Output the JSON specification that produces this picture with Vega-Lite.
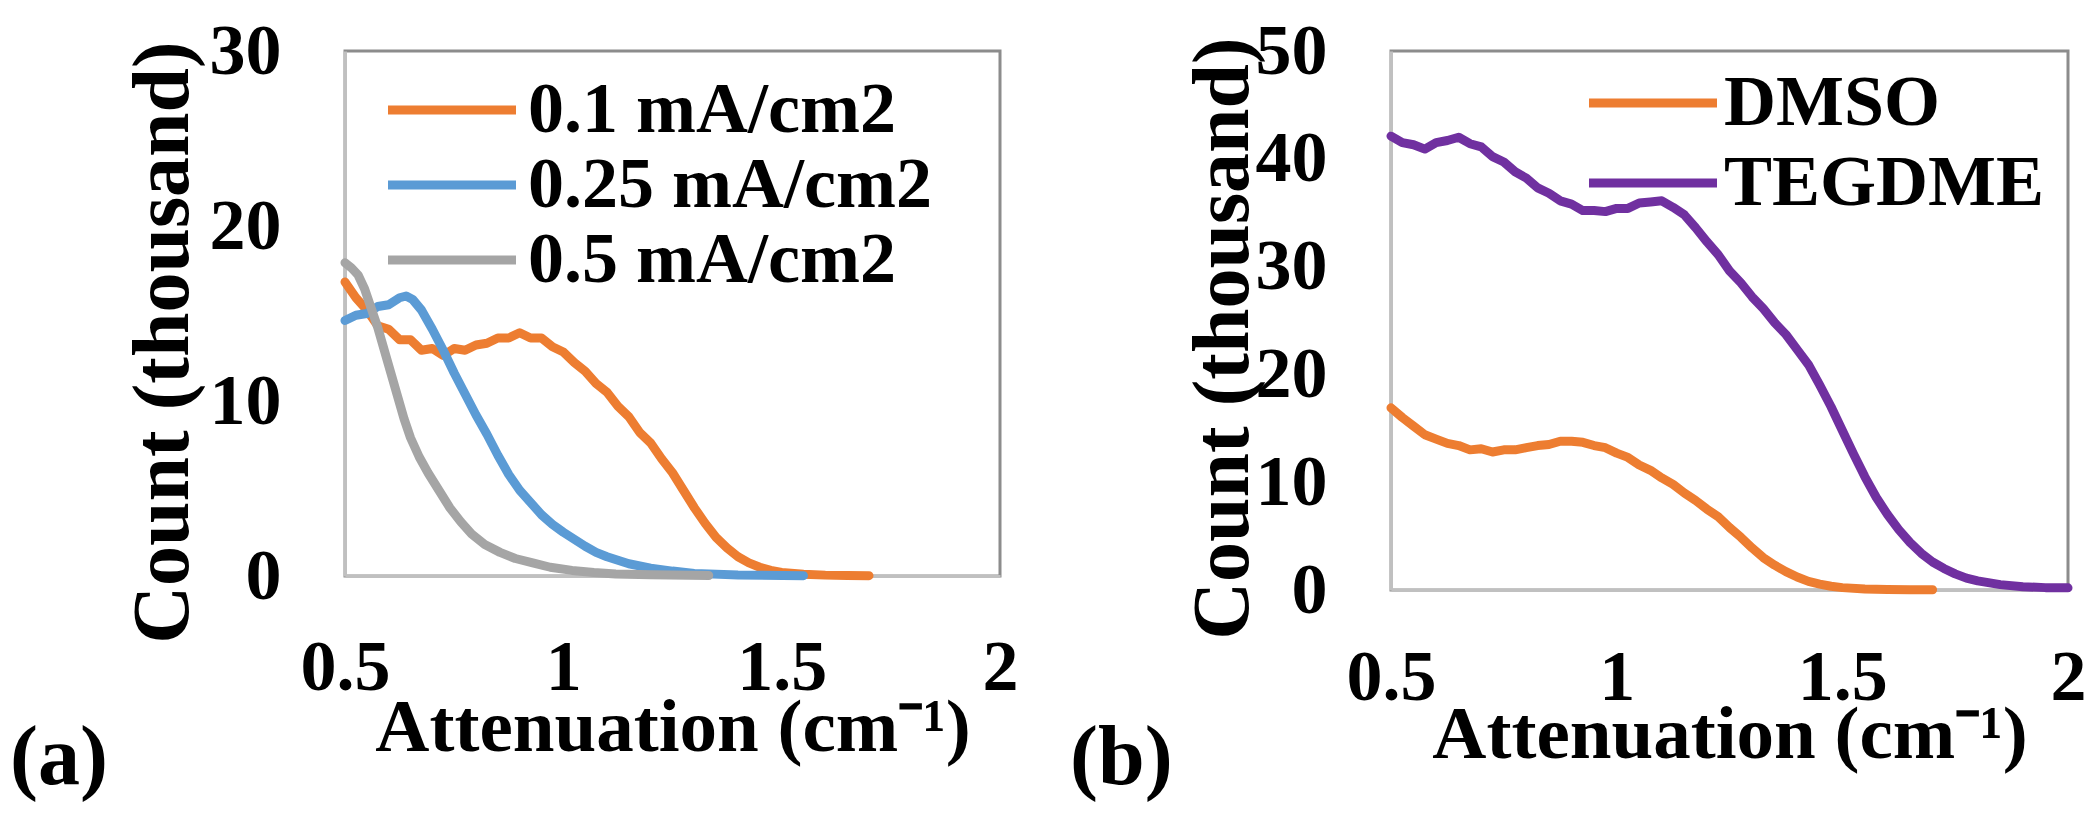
{
  "$schema": "https://vega.github.io/schema/vega-lite/v6.json",
  "autosize": {"type": "none"},
  "padding": {"left": 345, "top": 51, "right": 1750, "bottom": 764},
  "background": "white",
  "bounds": "flush",
  "spacing": 391,
  "resolve": {"scale": {"color": "independent"}, "legend": {"color": "independent"}},
  "config": {
    "font": "Liberation Serif",
    "view": {"stroke": "#8c8c8c", "strokeWidth": 3},
    "axis": {
      "grid": false, "ticks": false, "tickSize": 0,
      "domainColor": "#c0c0c0", "domainWidth": 3,
      "labelFont": "Liberation Serif", "labelFontSize": 72, "labelFontWeight": "bold", "labelColor": "black",
      "labelFlush": false, "labelOverlap": false,
      "titleFont": "Liberation Serif", "titleFontSize": 75, "titleFontWeight": "bold", "titleColor": "black"
    },
    "axisY": {"titleFontSize": 80},
    "legend": {
      "orient": "none", "title": null,
      "labelFont": "Liberation Serif", "labelFontSize": 72, "labelFontWeight": "bold", "labelColor": "black", "labelLimit": 0,
      "symbolType": "M-3.2,0H3.2", "symbolSize": 1600, "symbolStrokeWidth": 9
    },
    "title": {
      "font": "Liberation Serif", "fontSize": 84, "fontWeight": "bold", "color": "black",
      "orient": "bottom", "anchor": "start", "frame": "group", "baseline": "alphabetic"
    },
    "line": {"strokeWidth": 9, "strokeCap": "round", "strokeJoin": "round"}
  },
  "datasets": {
    "a": [
      {"series": "0.1 mA/cm2", "att": 0.5, "count": 16.8},
      {"series": "0.1 mA/cm2", "att": 0.525, "count": 15.9},
      {"series": "0.1 mA/cm2", "att": 0.55, "count": 15.2},
      {"series": "0.1 mA/cm2", "att": 0.575, "count": 14.3},
      {"series": "0.1 mA/cm2", "att": 0.6, "count": 14.1},
      {"series": "0.1 mA/cm2", "att": 0.625, "count": 13.5},
      {"series": "0.1 mA/cm2", "att": 0.65, "count": 13.5},
      {"series": "0.1 mA/cm2", "att": 0.675, "count": 12.9},
      {"series": "0.1 mA/cm2", "att": 0.7, "count": 13.0},
      {"series": "0.1 mA/cm2", "att": 0.725, "count": 12.6},
      {"series": "0.1 mA/cm2", "att": 0.75, "count": 13.0},
      {"series": "0.1 mA/cm2", "att": 0.775, "count": 12.9},
      {"series": "0.1 mA/cm2", "att": 0.8, "count": 13.2},
      {"series": "0.1 mA/cm2", "att": 0.825, "count": 13.3},
      {"series": "0.1 mA/cm2", "att": 0.85, "count": 13.6},
      {"series": "0.1 mA/cm2", "att": 0.875, "count": 13.6},
      {"series": "0.1 mA/cm2", "att": 0.9, "count": 13.9},
      {"series": "0.1 mA/cm2", "att": 0.925, "count": 13.6},
      {"series": "0.1 mA/cm2", "att": 0.95, "count": 13.6},
      {"series": "0.1 mA/cm2", "att": 0.975, "count": 13.1},
      {"series": "0.1 mA/cm2", "att": 1.0, "count": 12.8},
      {"series": "0.1 mA/cm2", "att": 1.025, "count": 12.2},
      {"series": "0.1 mA/cm2", "att": 1.05, "count": 11.7},
      {"series": "0.1 mA/cm2", "att": 1.075, "count": 11.0},
      {"series": "0.1 mA/cm2", "att": 1.1, "count": 10.5},
      {"series": "0.1 mA/cm2", "att": 1.125, "count": 9.7},
      {"series": "0.1 mA/cm2", "att": 1.15, "count": 9.1},
      {"series": "0.1 mA/cm2", "att": 1.175, "count": 8.2},
      {"series": "0.1 mA/cm2", "att": 1.2, "count": 7.6},
      {"series": "0.1 mA/cm2", "att": 1.225, "count": 6.7},
      {"series": "0.1 mA/cm2", "att": 1.25, "count": 5.9},
      {"series": "0.1 mA/cm2", "att": 1.275, "count": 4.9},
      {"series": "0.1 mA/cm2", "att": 1.3, "count": 3.9},
      {"series": "0.1 mA/cm2", "att": 1.325, "count": 3.0},
      {"series": "0.1 mA/cm2", "att": 1.35, "count": 2.2},
      {"series": "0.1 mA/cm2", "att": 1.375, "count": 1.6},
      {"series": "0.1 mA/cm2", "att": 1.4, "count": 1.1},
      {"series": "0.1 mA/cm2", "att": 1.425, "count": 0.75},
      {"series": "0.1 mA/cm2", "att": 1.45, "count": 0.5},
      {"series": "0.1 mA/cm2", "att": 1.475, "count": 0.32},
      {"series": "0.1 mA/cm2", "att": 1.5, "count": 0.2},
      {"series": "0.1 mA/cm2", "att": 1.55, "count": 0.1},
      {"series": "0.1 mA/cm2", "att": 1.6, "count": 0.05},
      {"series": "0.1 mA/cm2", "att": 1.65, "count": 0.03},
      {"series": "0.1 mA/cm2", "att": 1.7, "count": 0.02},
      {"series": "0.25 mA/cm2", "att": 0.5, "count": 14.6},
      {"series": "0.25 mA/cm2", "att": 0.525, "count": 14.9},
      {"series": "0.25 mA/cm2", "att": 0.55, "count": 15.0},
      {"series": "0.25 mA/cm2", "att": 0.575, "count": 15.4},
      {"series": "0.25 mA/cm2", "att": 0.6, "count": 15.5},
      {"series": "0.25 mA/cm2", "att": 0.625, "count": 15.9},
      {"series": "0.25 mA/cm2", "att": 0.64, "count": 16.0},
      {"series": "0.25 mA/cm2", "att": 0.655, "count": 15.8},
      {"series": "0.25 mA/cm2", "att": 0.675, "count": 15.2},
      {"series": "0.25 mA/cm2", "att": 0.7, "count": 14.1},
      {"series": "0.25 mA/cm2", "att": 0.725, "count": 12.9},
      {"series": "0.25 mA/cm2", "att": 0.75, "count": 11.6},
      {"series": "0.25 mA/cm2", "att": 0.775, "count": 10.4},
      {"series": "0.25 mA/cm2", "att": 0.8, "count": 9.2},
      {"series": "0.25 mA/cm2", "att": 0.825, "count": 8.1},
      {"series": "0.25 mA/cm2", "att": 0.85, "count": 6.9},
      {"series": "0.25 mA/cm2", "att": 0.875, "count": 5.8},
      {"series": "0.25 mA/cm2", "att": 0.9, "count": 4.9},
      {"series": "0.25 mA/cm2", "att": 0.925, "count": 4.2},
      {"series": "0.25 mA/cm2", "att": 0.95, "count": 3.5},
      {"series": "0.25 mA/cm2", "att": 0.975, "count": 2.95},
      {"series": "0.25 mA/cm2", "att": 1.0, "count": 2.5},
      {"series": "0.25 mA/cm2", "att": 1.025, "count": 2.1},
      {"series": "0.25 mA/cm2", "att": 1.05, "count": 1.7},
      {"series": "0.25 mA/cm2", "att": 1.075, "count": 1.35},
      {"series": "0.25 mA/cm2", "att": 1.1, "count": 1.1},
      {"series": "0.25 mA/cm2", "att": 1.15, "count": 0.7},
      {"series": "0.25 mA/cm2", "att": 1.2, "count": 0.45},
      {"series": "0.25 mA/cm2", "att": 1.25, "count": 0.28},
      {"series": "0.25 mA/cm2", "att": 1.3, "count": 0.15},
      {"series": "0.25 mA/cm2", "att": 1.4, "count": 0.06},
      {"series": "0.25 mA/cm2", "att": 1.55, "count": 0.02},
      {"series": "0.5 mA/cm2", "att": 0.5, "count": 17.9},
      {"series": "0.5 mA/cm2", "att": 0.515, "count": 17.6},
      {"series": "0.5 mA/cm2", "att": 0.53, "count": 17.2},
      {"series": "0.5 mA/cm2", "att": 0.545, "count": 16.4},
      {"series": "0.5 mA/cm2", "att": 0.56, "count": 15.3},
      {"series": "0.5 mA/cm2", "att": 0.575, "count": 14.2},
      {"series": "0.5 mA/cm2", "att": 0.59, "count": 12.9},
      {"series": "0.5 mA/cm2", "att": 0.605, "count": 11.6},
      {"series": "0.5 mA/cm2", "att": 0.62, "count": 10.3},
      {"series": "0.5 mA/cm2", "att": 0.635, "count": 9.0},
      {"series": "0.5 mA/cm2", "att": 0.65, "count": 7.9},
      {"series": "0.5 mA/cm2", "att": 0.67, "count": 6.8},
      {"series": "0.5 mA/cm2", "att": 0.69, "count": 5.9},
      {"series": "0.5 mA/cm2", "att": 0.715, "count": 4.9},
      {"series": "0.5 mA/cm2", "att": 0.74, "count": 3.9},
      {"series": "0.5 mA/cm2", "att": 0.765, "count": 3.1},
      {"series": "0.5 mA/cm2", "att": 0.79, "count": 2.4},
      {"series": "0.5 mA/cm2", "att": 0.82, "count": 1.8},
      {"series": "0.5 mA/cm2", "att": 0.855, "count": 1.35},
      {"series": "0.5 mA/cm2", "att": 0.89, "count": 1.0},
      {"series": "0.5 mA/cm2", "att": 0.93, "count": 0.75},
      {"series": "0.5 mA/cm2", "att": 0.97, "count": 0.5},
      {"series": "0.5 mA/cm2", "att": 1.02, "count": 0.32},
      {"series": "0.5 mA/cm2", "att": 1.07, "count": 0.2},
      {"series": "0.5 mA/cm2", "att": 1.12, "count": 0.12},
      {"series": "0.5 mA/cm2", "att": 1.2, "count": 0.07},
      {"series": "0.5 mA/cm2", "att": 1.333, "count": 0.03}
    ],
    "b": [
      {"series": "DMSO", "att": 0.5, "count": 16.9},
      {"series": "DMSO", "att": 0.525, "count": 16.0},
      {"series": "DMSO", "att": 0.55, "count": 15.2},
      {"series": "DMSO", "att": 0.575, "count": 14.4},
      {"series": "DMSO", "att": 0.6, "count": 14.0},
      {"series": "DMSO", "att": 0.625, "count": 13.6},
      {"series": "DMSO", "att": 0.65, "count": 13.4},
      {"series": "DMSO", "att": 0.675, "count": 13.0},
      {"series": "DMSO", "att": 0.7, "count": 13.1},
      {"series": "DMSO", "att": 0.725, "count": 12.8},
      {"series": "DMSO", "att": 0.75, "count": 13.0},
      {"series": "DMSO", "att": 0.775, "count": 13.0},
      {"series": "DMSO", "att": 0.8, "count": 13.2},
      {"series": "DMSO", "att": 0.825, "count": 13.4},
      {"series": "DMSO", "att": 0.85, "count": 13.5},
      {"series": "DMSO", "att": 0.875, "count": 13.8},
      {"series": "DMSO", "att": 0.9, "count": 13.8},
      {"series": "DMSO", "att": 0.925, "count": 13.7},
      {"series": "DMSO", "att": 0.95, "count": 13.4},
      {"series": "DMSO", "att": 0.975, "count": 13.2},
      {"series": "DMSO", "att": 1.0, "count": 12.7},
      {"series": "DMSO", "att": 1.025, "count": 12.3},
      {"series": "DMSO", "att": 1.05, "count": 11.6},
      {"series": "DMSO", "att": 1.075, "count": 11.1},
      {"series": "DMSO", "att": 1.1, "count": 10.4},
      {"series": "DMSO", "att": 1.125, "count": 9.8},
      {"series": "DMSO", "att": 1.15, "count": 9.0},
      {"series": "DMSO", "att": 1.175, "count": 8.3},
      {"series": "DMSO", "att": 1.2, "count": 7.5},
      {"series": "DMSO", "att": 1.225, "count": 6.8},
      {"series": "DMSO", "att": 1.25, "count": 5.8},
      {"series": "DMSO", "att": 1.275, "count": 4.9},
      {"series": "DMSO", "att": 1.3, "count": 3.9},
      {"series": "DMSO", "att": 1.325, "count": 3.0},
      {"series": "DMSO", "att": 1.35, "count": 2.3},
      {"series": "DMSO", "att": 1.375, "count": 1.7},
      {"series": "DMSO", "att": 1.4, "count": 1.2},
      {"series": "DMSO", "att": 1.425, "count": 0.8},
      {"series": "DMSO", "att": 1.45, "count": 0.55},
      {"series": "DMSO", "att": 1.475, "count": 0.35},
      {"series": "DMSO", "att": 1.5, "count": 0.22},
      {"series": "DMSO", "att": 1.55, "count": 0.1},
      {"series": "DMSO", "att": 1.6, "count": 0.05},
      {"series": "DMSO", "att": 1.65, "count": 0.03},
      {"series": "DMSO", "att": 1.7, "count": 0.02},
      {"series": "TEGDME", "att": 0.5, "count": 42.1},
      {"series": "TEGDME", "att": 0.525, "count": 41.5},
      {"series": "TEGDME", "att": 0.55, "count": 41.3},
      {"series": "TEGDME", "att": 0.575, "count": 40.9},
      {"series": "TEGDME", "att": 0.6, "count": 41.5},
      {"series": "TEGDME", "att": 0.625, "count": 41.7},
      {"series": "TEGDME", "att": 0.65, "count": 42.0},
      {"series": "TEGDME", "att": 0.675, "count": 41.4},
      {"series": "TEGDME", "att": 0.7, "count": 41.1},
      {"series": "TEGDME", "att": 0.725, "count": 40.2},
      {"series": "TEGDME", "att": 0.75, "count": 39.7},
      {"series": "TEGDME", "att": 0.775, "count": 38.8},
      {"series": "TEGDME", "att": 0.8, "count": 38.2},
      {"series": "TEGDME", "att": 0.825, "count": 37.3},
      {"series": "TEGDME", "att": 0.85, "count": 36.8},
      {"series": "TEGDME", "att": 0.875, "count": 36.1},
      {"series": "TEGDME", "att": 0.9, "count": 35.8},
      {"series": "TEGDME", "att": 0.925, "count": 35.2},
      {"series": "TEGDME", "att": 0.95, "count": 35.2},
      {"series": "TEGDME", "att": 0.975, "count": 35.1},
      {"series": "TEGDME", "att": 1.0, "count": 35.4},
      {"series": "TEGDME", "att": 1.025, "count": 35.4},
      {"series": "TEGDME", "att": 1.05, "count": 35.9},
      {"series": "TEGDME", "att": 1.075, "count": 36.0},
      {"series": "TEGDME", "att": 1.1, "count": 36.1},
      {"series": "TEGDME", "att": 1.125, "count": 35.5},
      {"series": "TEGDME", "att": 1.15, "count": 34.8},
      {"series": "TEGDME", "att": 1.175, "count": 33.6},
      {"series": "TEGDME", "att": 1.2, "count": 32.3},
      {"series": "TEGDME", "att": 1.225, "count": 31.1},
      {"series": "TEGDME", "att": 1.25, "count": 29.6},
      {"series": "TEGDME", "att": 1.275, "count": 28.5},
      {"series": "TEGDME", "att": 1.3, "count": 27.2},
      {"series": "TEGDME", "att": 1.325, "count": 26.1},
      {"series": "TEGDME", "att": 1.35, "count": 24.8},
      {"series": "TEGDME", "att": 1.375, "count": 23.7},
      {"series": "TEGDME", "att": 1.4, "count": 22.3},
      {"series": "TEGDME", "att": 1.425, "count": 20.9},
      {"series": "TEGDME", "att": 1.45, "count": 19.0},
      {"series": "TEGDME", "att": 1.475, "count": 17.0},
      {"series": "TEGDME", "att": 1.5, "count": 14.8},
      {"series": "TEGDME", "att": 1.525, "count": 12.6},
      {"series": "TEGDME", "att": 1.55, "count": 10.5},
      {"series": "TEGDME", "att": 1.575, "count": 8.6},
      {"series": "TEGDME", "att": 1.6, "count": 7.0},
      {"series": "TEGDME", "att": 1.625, "count": 5.6},
      {"series": "TEGDME", "att": 1.65, "count": 4.4},
      {"series": "TEGDME", "att": 1.675, "count": 3.4},
      {"series": "TEGDME", "att": 1.7, "count": 2.6},
      {"series": "TEGDME", "att": 1.725, "count": 2.0},
      {"series": "TEGDME", "att": 1.75, "count": 1.5},
      {"series": "TEGDME", "att": 1.775, "count": 1.1},
      {"series": "TEGDME", "att": 1.8, "count": 0.85},
      {"series": "TEGDME", "att": 1.85, "count": 0.5},
      {"series": "TEGDME", "att": 1.9, "count": 0.3},
      {"series": "TEGDME", "att": 1.95, "count": 0.22},
      {"series": "TEGDME", "att": 2.0, "count": 0.2}
    ]
  },
  "hconcat": [
    {
      "width": 655,
      "height": 525,
      "title": {"text": "(a)", "dx": -335, "offset": -47},
      "data": {"name": "a"},
      "mark": {"type": "line"},
      "encoding": {
        "x": {
          "field": "att", "type": "quantitative",
          "scale": {"domain": [0.5, 2], "nice": false, "zero": false},
          "axis": {
            "title": "Attenuation (cm⁻¹)", "values": [0.5, 1, 1.5, 2], "format": "~g",
            "labelBaseline": "alphabetic", "labelPadding": 113,
            "titleY": 174, "titleBaseline": "alphabetic"
          }
        },
        "y": {
          "field": "count", "type": "quantitative",
          "scale": {"domain": [0, 30], "nice": false},
          "axis": {
            "title": "Count (thousand)", "values": [0, 10, 20, 30], "format": "d",
            "labelPadding": 64, "labelBaseline": "middle",
            "titleX": -158, "titleY": 291, "titleAngle": -90, "titleAlign": "center", "titleBaseline": "alphabetic"
          }
        },
        "color": {
          "field": "series", "type": "nominal",
          "scale": {
            "domain": ["0.1 mA/cm2", "0.25 mA/cm2", "0.5 mA/cm2"],
            "range": ["#ED7D31", "#5B9BD5", "#A5A5A5"]
          },
          "legend": {"legendX": 71, "legendY": 23, "labelOffset": 40, "rowPadding": 3}
        }
      }
    },
    {
      "width": 677,
      "height": 539,
      "title": {"text": "(b)", "dx": -321, "offset": -54},
      "data": {"name": "b"},
      "mark": {"type": "line"},
      "encoding": {
        "x": {
          "field": "att", "type": "quantitative",
          "scale": {"domain": [0.5, 2], "nice": false, "zero": false},
          "axis": {
            "title": "Attenuation (cm⁻¹)", "values": [0.5, 1, 1.5, 2], "format": "~g",
            "labelBaseline": "alphabetic", "labelPadding": 109,
            "titleY": 167, "titleBaseline": "alphabetic"
          }
        },
        "y": {
          "field": "count", "type": "quantitative",
          "scale": {"domain": [0, 50], "nice": false},
          "axis": {
            "title": "Count (thousand)", "values": [0, 10, 20, 30, 40, 50], "format": "d",
            "labelPadding": 64, "labelBaseline": "middle",
            "titleX": -144, "titleY": 287, "titleAngle": -90, "titleAlign": "center", "titleBaseline": "alphabetic"
          }
        },
        "color": {
          "field": "series", "type": "nominal",
          "scale": {
            "domain": ["DMSO", "TEGDME"],
            "range": ["#ED7D31", "#7030A0"]
          },
          "legend": {"legendX": 226, "legendY": 16, "labelOffset": 35, "rowPadding": 8}
        }
      }
    }
  ]
}
